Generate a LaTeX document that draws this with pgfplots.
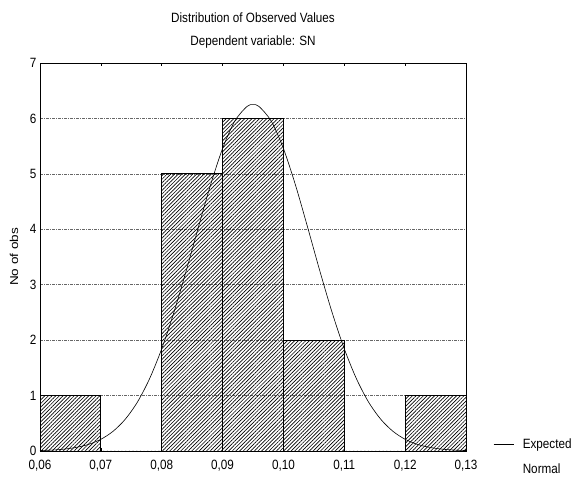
\documentclass[border=0pt]{standalone}
\usepackage{fontspec}
\setmainfont{Liberation Sans}[FakeStretch=0.87]
\newfontfamily\ylabfont{Liberation Sans}[FakeStretch=1.18]
\usepackage{pgfplots}
\pgfplotsset{compat=1.18}
\usetikzlibrary{patterns.meta}
\newcommand{\chartfont}{\fontsize{13.5}{16}\selectfont}
\begin{document}
\begin{tikzpicture}
\useasboundingbox (-40bp,-30bp) rectangle (535bp,451bp);
\begin{axis}[
  at={(0,0)}, anchor=south west,
  scale only axis, width=426bp, height=388bp,
  clip=false,
  xmin=0.06, xmax=0.13, ymin=0, ymax=7,
  xtick={0.06,0.07,0.08,0.09,0.10,0.11,0.12,0.13},
  ytick={0,1,2,3,4,5,6,7},
  ymajorgrids,
  major grid style={black!60, line width=0.5pt, dash pattern=on 3bp off 1bp on 1bp off 1bp},
  tick align=inside, major tick length=3bp,
  ytick style={draw=none},
  xtick style={black, line width=0.5pt},
  axis line style={line width=0.8pt},
  /pgf/number format/assume math mode=true,
  xticklabel style={yshift=-6bp, /pgf/number format/.cd, fixed, fixed zerofill, precision=2, use comma},
  tick label style={font=\chartfont},
  ylabel={No of obs},
  ylabel style={at={(axis description cs:-0.061,0.5)}, anchor=center, font=\ylabfont\fontsize{11.5}{13}\selectfont},
  legend style={draw=none, fill=none, inner sep=0pt,
    at={(axis description cs:1.0634,-0.0155)}, anchor=west,
    font=\chartfont, row sep=12bp,
    nodes={inner sep=0pt, text height=10bp, text depth=3bp},
    /tikz/every odd column/.append style={column sep=9bp}},
  legend image code/.code={\draw[#1] (0bp,0bp) -- (20bp,0bp);},
  legend cell align=left,
]
\addplot[ybar interval, draw=black, line width=0.8pt,
  pattern={Lines[angle=45,distance=2.6bp,line width=0.65bp]}, forget plot]
  coordinates {(0.06,1)(0.07,0)(0.08,5)(0.09,6)(0.10,2)(0.11,0)(0.12,1)(0.13,1)};
\addplot[black, line width=0.6pt, smooth] coordinates {
(0.060,0.008)(0.062,0.017)(0.064,0.034)(0.066,0.066)(0.068,0.120)(0.070,0.211)
(0.072,0.355)(0.074,0.572)(0.076,0.881)(0.078,1.303)(0.080,1.844)(0.082,2.499)
(0.084,3.242)(0.086,4.027)(0.088,4.791)(0.090,5.457)(0.092,5.951)(0.094,6.215)
(0.095,6.25)
(0.096,6.215)(0.098,5.951)(0.100,5.457)(0.102,4.791)(0.104,4.027)(0.106,3.242)
(0.108,2.499)(0.110,1.844)(0.112,1.303)(0.114,0.881)(0.116,0.572)(0.118,0.355)
(0.120,0.211)(0.122,0.120)(0.124,0.066)(0.126,0.034)(0.128,0.017)(0.130,0.008)};
\addlegendentry{Expected}
\addlegendimage{empty legend}
\addlegendentry{Normal}
\node[font=\chartfont, anchor=base] at (axis description cs:0.5,1) [yshift=41bp] {Distribution of Observed Values};
\node[font=\chartfont, anchor=base] at (axis description cs:0.5,1) [yshift=18bp] {Dependent variable: SN};
\end{axis}
\end{tikzpicture}
\end{document}
